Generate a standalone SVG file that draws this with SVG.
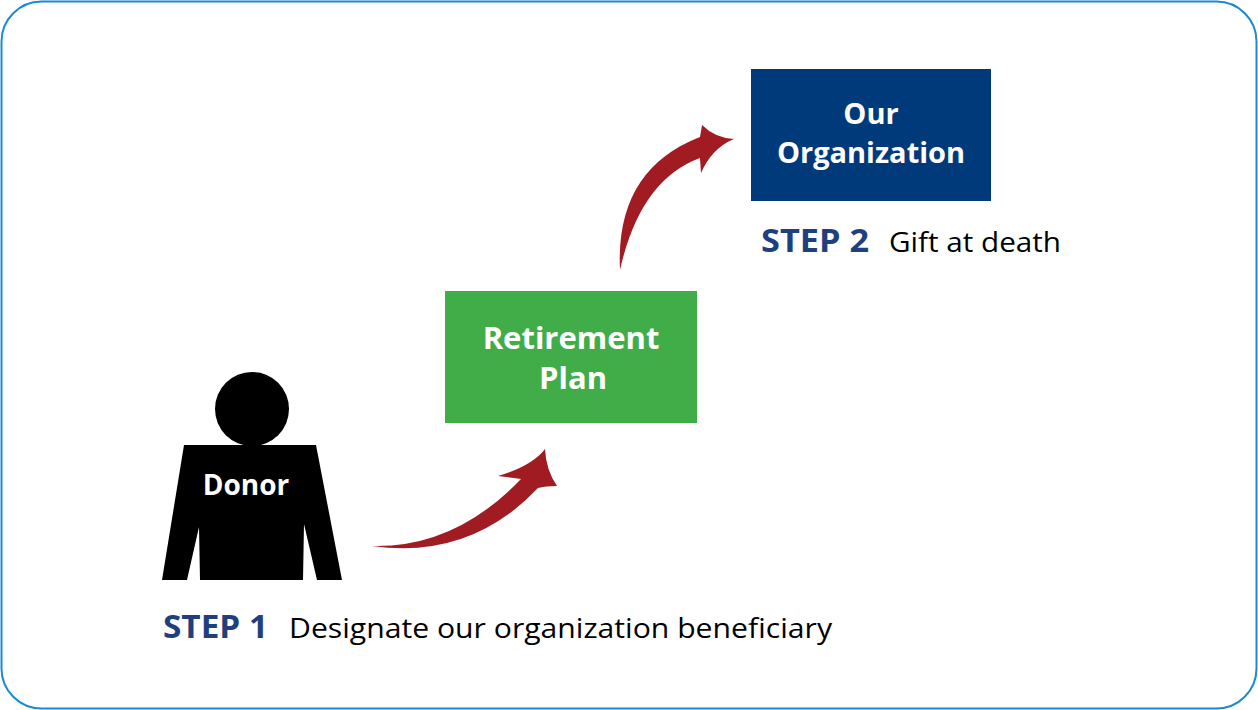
<svg xmlns="http://www.w3.org/2000/svg" width="1258" height="710" viewBox="0 0 1258 710">
<style>
.bx{font-family:"Open Sans","Liberation Sans",sans-serif;font-weight:bold;fill:#fff;text-anchor:middle}
.st{font-family:"Open Sans","Liberation Sans",sans-serif;font-weight:bold;fill:#1f3f7e;font-size:32px}
.ds{font-family:"Open Sans","Liberation Sans",sans-serif;fill:#000;font-size:28px}
.ar{fill:#a01c22}
</style>
<rect x="1.5" y="1.5" width="1255" height="707" rx="40" fill="#fff" stroke="#1a8bd0" stroke-width="2"/>
<g id="donor">
<circle cx="252" cy="409" r="37" fill="#000"/>
<path d="M184,445 L316,445 L342,580 L317,580 L304,524 L303,580 L200,580 L199,527 L187,580 L162,580 Z" fill="#000"/>
<text class="bx" x="246" y="495" font-size="28">Donor</text>
</g>
<g id="retirement">
<rect x="445" y="291" width="252" height="132" fill="#41ad49"/>
<text class="bx" x="571" y="349" font-size="31">Retirement</text>
<text class="bx" x="573" y="389" font-size="31">Plan</text>
</g>
<g id="org">
<rect x="751" y="69" width="240" height="132" fill="#003a7a"/>
<text class="bx" x="871" y="124" font-size="29">Our</text>
<text class="bx" x="871" y="163" font-size="29">Organization</text>
</g>
<g id="connectors">
<path class="ar" d="M372,546 Q455,548 521,479 L498,476 Q532,466 545,449 Q546,470 557,486 Q545,486 538,488 Q470,560 372,546 Z"/>
<path class="ar" d="M620,270 Q615,170 700,137 L702,125 Q715,138 734,139 Q712,148 701,173 L700,158 Q640,180 620,270 Z"/>
</g>
<g id="labels">
<text class="st" x="163" y="638" textLength="105" lengthAdjust="spacingAndGlyphs">STEP 1</text>
<text class="ds" x="289" y="638" textLength="543" lengthAdjust="spacingAndGlyphs">Designate our organization beneficiary</text>
<text class="st" x="761" y="252" textLength="108" lengthAdjust="spacingAndGlyphs">STEP 2</text>
<text class="ds" x="889" y="252" textLength="172" lengthAdjust="spacingAndGlyphs">Gift at death</text>
</g>
</svg>
